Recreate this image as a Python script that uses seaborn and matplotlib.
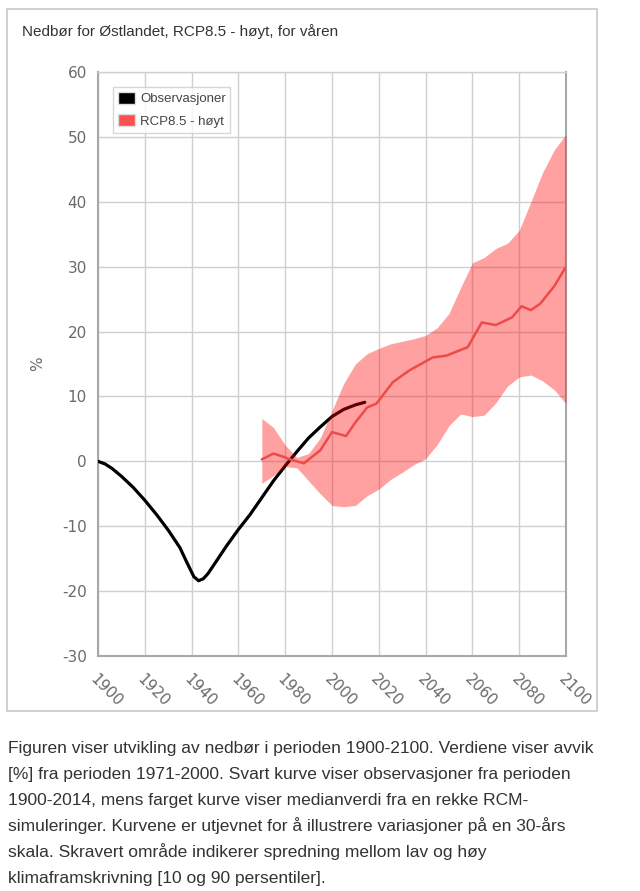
import matplotlib
matplotlib.use("Agg")
import matplotlib.pyplot as plt
import matplotlib.patches as mpatches
import seaborn as sns

# ---------------------------------------------------------------------------
# Data
# ---------------------------------------------------------------------------
obs_years = [1900, 1903, 1906, 1910, 1915, 1920, 1925, 1930, 1935, 1938, 1941,
             1943, 1945, 1947, 1950, 1955, 1960, 1965, 1970, 1975, 1980, 1985,
             1990, 1995, 2000, 2005, 2010, 2014]
obs_vals = [0.0, -0.4, -1.1, -2.3, -4.0, -6.0, -8.2, -10.6, -13.3, -15.6, -17.8,
            -18.4, -18.1, -17.3, -15.7, -13.0, -10.5, -8.2, -5.6, -3.0, -0.7, 1.5,
            3.6, 5.3, 6.9, 8.0, 8.7, 9.1]

proj_years = [1970, 1975, 1980, 1982, 1988, 1995, 2000, 2006, 2010, 2015, 2019,
              2026, 2033, 2043, 2049, 2058, 2064, 2070, 2077, 2081, 2085, 2089,
              2095, 2100]
proj_median = [0.3, 1.2, 0.6, 0.3, -0.3, 1.7, 4.5, 3.9, 6.0, 8.3, 8.9,
               12.2, 14.0, 16.0, 16.3, 17.6, 21.4, 21.0, 22.2, 23.9, 23.3, 24.3,
               27.0, 30.0]

band_years = [1970, 1975, 1980, 1985, 1990, 1995, 2000, 2005, 2010, 2015, 2020,
              2025, 2030, 2035, 2040, 2045, 2050, 2055, 2060, 2065, 2070, 2075,
              2080, 2085, 2090, 2095, 2100]
band_high = [6.6, 5.2, 2.5, 0.6, 1.2, 3.6, 7.8, 12.0, 15.0, 16.6, 17.4,
             18.1, 18.5, 18.9, 19.4, 20.6, 22.8, 26.8, 30.6, 31.4, 32.8, 33.6,
             35.6, 40.0, 44.5, 48.0, 50.4]
band_low = [-3.4, -2.2, -0.8, -1.0, -3.0, -5.0, -6.8, -7.0, -6.8, -5.3, -4.3,
            -2.8, -1.7, -0.5, 0.4, 2.6, 5.5, 7.3, 6.9, 7.1, 9.0, 11.6,
            13.0, 13.3, 12.4, 11.0, 8.9]

x_ticks = list(range(1900, 2101, 20))
y_ticks = list(range(-30, 61, 10))

title = "Nedbør for Østlandet, RCP8.5 - høyt, for våren"
caption_lines = [
    "Figuren viser utvikling av nedbør i perioden 1900-2100. Verdiene viser avvik",
    "[%] fra perioden 1971-2000. Svart kurve viser observasjoner fra perioden",
    "1900-2014, mens farget kurve viser medianverdi fra en rekke RCM-",
    "simuleringer. Kurvene er utjevnet for å illustrere variasjoner på en 30-års",
    "skala. Skravert område indikerer spredning mellom lav og høy",
    "klimaframskrivning [10 og 90 persentiler].",
]

# ---------------------------------------------------------------------------
# Style
# ---------------------------------------------------------------------------
sns.set_style("white")
plt.rcParams["font.family"] = ["DejaVu Sans"]
plt.rcParams["axes.unicode_minus"] = False
NARROW = ["Liberation Sans", "DejaVu Sans"]

GRID = "#d0d0d0"
SPINE = "#a8a8a8"
TICKTXT = "#6a6a6a"
BAND = (1.0, 0.0, 0.0)
RED = "#ee4a4a"

fig = plt.figure(figsize=(6.4, 8.91), dpi=100)

# outer frame around the chart
fig.patches.append(mpatches.Rectangle((7 / 640, 1 - 711 / 891), 590 / 640, 702 / 891,
                                      transform=fig.transFigure, fill=False,
                                      edgecolor="#c8c8c8", linewidth=1.2))

ax = fig.add_axes([98 / 640, 1 - 656 / 891, 468 / 640, 584 / 891])

sns.lineplot(x=obs_years, y=obs_vals, ax=ax, color="black", linewidth=2.3, zorder=3)
ax.fill_between(band_years, band_low, band_high, color=BAND, alpha=0.37,
                linewidth=0, zorder=4)
sns.lineplot(x=proj_years, y=proj_median, ax=ax, color=RED, linewidth=1.8, zorder=5)

ax.set_xlim(1900, 2100)
ax.set_ylim(-30, 60)
ax.set_xticks(x_ticks)
ax.set_yticks(y_ticks)
ax.set_xticklabels([str(t) for t in x_ticks], rotation=-45, ha="left", va="top",
                   rotation_mode="anchor")
ax.grid(True, color=GRID, linewidth=1.0)
ax.set_axisbelow(True)
for s in ax.spines.values():
    s.set_color(SPINE)
    s.set_linewidth(1.5)
ax.spines["top"].set_color(GRID)
ax.spines["top"].set_linewidth(1.0)
ax.tick_params(axis="both", colors=SPINE, labelcolor=TICKTXT, labelsize=11,
               length=5, width=1.0, direction="out")
ax.tick_params(axis="x", pad=6)
ax.tick_params(axis="y", pad=3)
ax.set_xlabel("")
ax.set_ylabel("%", color=TICKTXT, fontsize=11, labelpad=12)

handles = [mpatches.Patch(facecolor="black", edgecolor="#dddddd", label="Observasjoner"),
           mpatches.Patch(facecolor="#ff5050", edgecolor="#dddddd", label="RCP8.5 - høyt")]
leg = ax.legend(handles=handles, loc="upper left", bbox_to_anchor=(0.032, 0.974),
                borderaxespad=0, frameon=True, fancybox=False, handlelength=1.3,
                handleheight=1.0, handletextpad=0.4, labelspacing=0.7,
                borderpad=0.35, prop={"family": NARROW, "size": 9.5})
leg.get_frame().set_edgecolor("#cccccc")
leg.get_frame().set_linewidth(1.0)
for t in leg.get_texts():
    t.set_color("#444444")

fig.text(22 / 640, 1 - 32 / 891, title, family=NARROW, fontsize=11,
         color="#333333", va="center", ha="left")

# caption: one line at a time so the spacing stays even
for i, line in enumerate(caption_lines):
    fig.text(8 / 640, 1 - (748 + 26 * i) / 891, line, family=NARROW, fontsize=12.5,
             color="#333333", va="center", ha="left")

fig.savefig("out.png", dpi=100)
